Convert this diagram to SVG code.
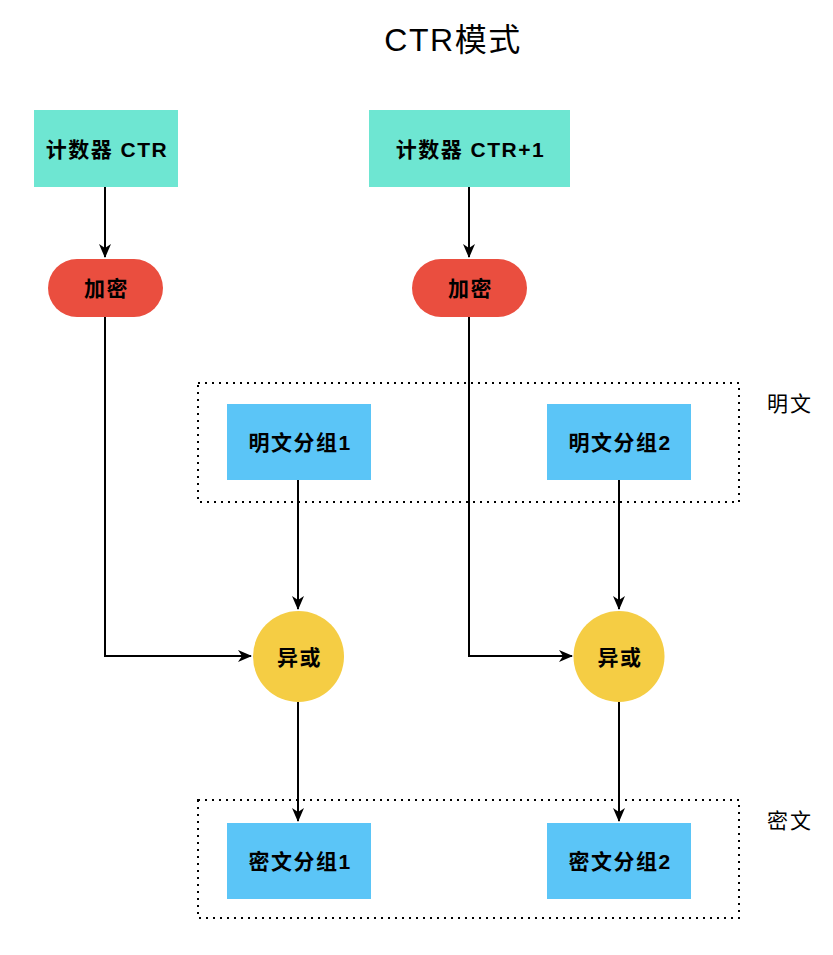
<svg xmlns="http://www.w3.org/2000/svg" width="833" height="955" viewBox="0 0 833 955">
<style>
text{font-family:"Liberation Sans","Noto Sans CJK SC",sans-serif;text-anchor:middle;dominant-baseline:central;fill:#000}
.n{font-size:21px;font-weight:bold;letter-spacing:1.5px}
.lbl{font-size:21px;letter-spacing:2px}
.title{font-size:32px;letter-spacing:1.5px}
.ctr{fill:#6ee6d2}
.enc{fill:#ea4e3f}
.blk{fill:#5bc5f7}
.xor{fill:#f5cd44}
.grp{fill:none;stroke:#000;stroke-width:2;stroke-dasharray:2 5}
.c{fill:none;stroke:#000;stroke-width:2}
</style>
<defs>
<marker id="ah" markerWidth="14" markerHeight="12" viewBox="0 0 14 12" refX="13" refY="6" orient="auto" markerUnits="userSpaceOnUse">
<path d="M0,0 L14,6 L0,12 L4,6 z" fill="#000"/>
</marker>
</defs>
<rect width="833" height="955" fill="#fff"/>
<text class="title" x="453" y="40">CTR模式</text>
<g id="group-plain">
<rect class="grp" x="198" y="383" width="541" height="119"/>
<text class="lbl" x="790" y="403">明文</text>
</g>
<g id="group-cipher">
<rect class="grp" x="198" y="800" width="541" height="118"/>
<text class="lbl" x="790" y="820">密文</text>
</g>
<g id="connectors">
<path class="c" d="M105,187 V257" marker-end="url(#ah)"/>
<path class="c" d="M469,187 V257" marker-end="url(#ah)"/>
<path class="c" d="M105,317 V656 H251" marker-end="url(#ah)"/>
<path class="c" d="M469,317 V656 H572" marker-end="url(#ah)"/>
<path class="c" d="M298,480 V609" marker-end="url(#ah)"/>
<path class="c" d="M619,480 V609" marker-end="url(#ah)"/>
<path class="c" d="M298,702 V821" marker-end="url(#ah)"/>
<path class="c" d="M619,702 V821" marker-end="url(#ah)"/>
</g>
<g id="ctr1"><rect class="ctr" x="34" y="110" width="144" height="77"/><text class="n" x="107" y="149">计数器 CTR</text></g>
<g id="ctr2"><rect class="ctr" x="369" y="110" width="201" height="77"/><text class="n" x="470.5" y="149">计数器 CTR+1</text></g>
<g id="enc1"><rect class="enc" x="48" y="259" width="115" height="58" rx="29"/><text class="n" x="106.5" y="288">加密</text></g>
<g id="enc2"><rect class="enc" x="412" y="259" width="115" height="58" rx="29"/><text class="n" x="470.5" y="288">加密</text></g>
<g id="p1"><rect class="blk" x="227" y="404" width="144" height="76"/><text class="n" x="300" y="442">明文分组1</text></g>
<g id="p2"><rect class="blk" x="547" y="404" width="144" height="76"/><text class="n" x="620" y="442">明文分组2</text></g>
<g id="x1"><circle class="xor" cx="298.5" cy="656.5" r="45.5"/><text class="n" x="299.5" y="657">异或</text></g>
<g id="x2"><circle class="xor" cx="619" cy="656.5" r="45.5"/><text class="n" x="620" y="657">异或</text></g>
<g id="c1"><rect class="blk" x="227" y="823" width="144" height="76"/><text class="n" x="300" y="861">密文分组1</text></g>
<g id="c2"><rect class="blk" x="547" y="823" width="144" height="76"/><text class="n" x="620" y="861">密文分组2</text></g>
</svg>
